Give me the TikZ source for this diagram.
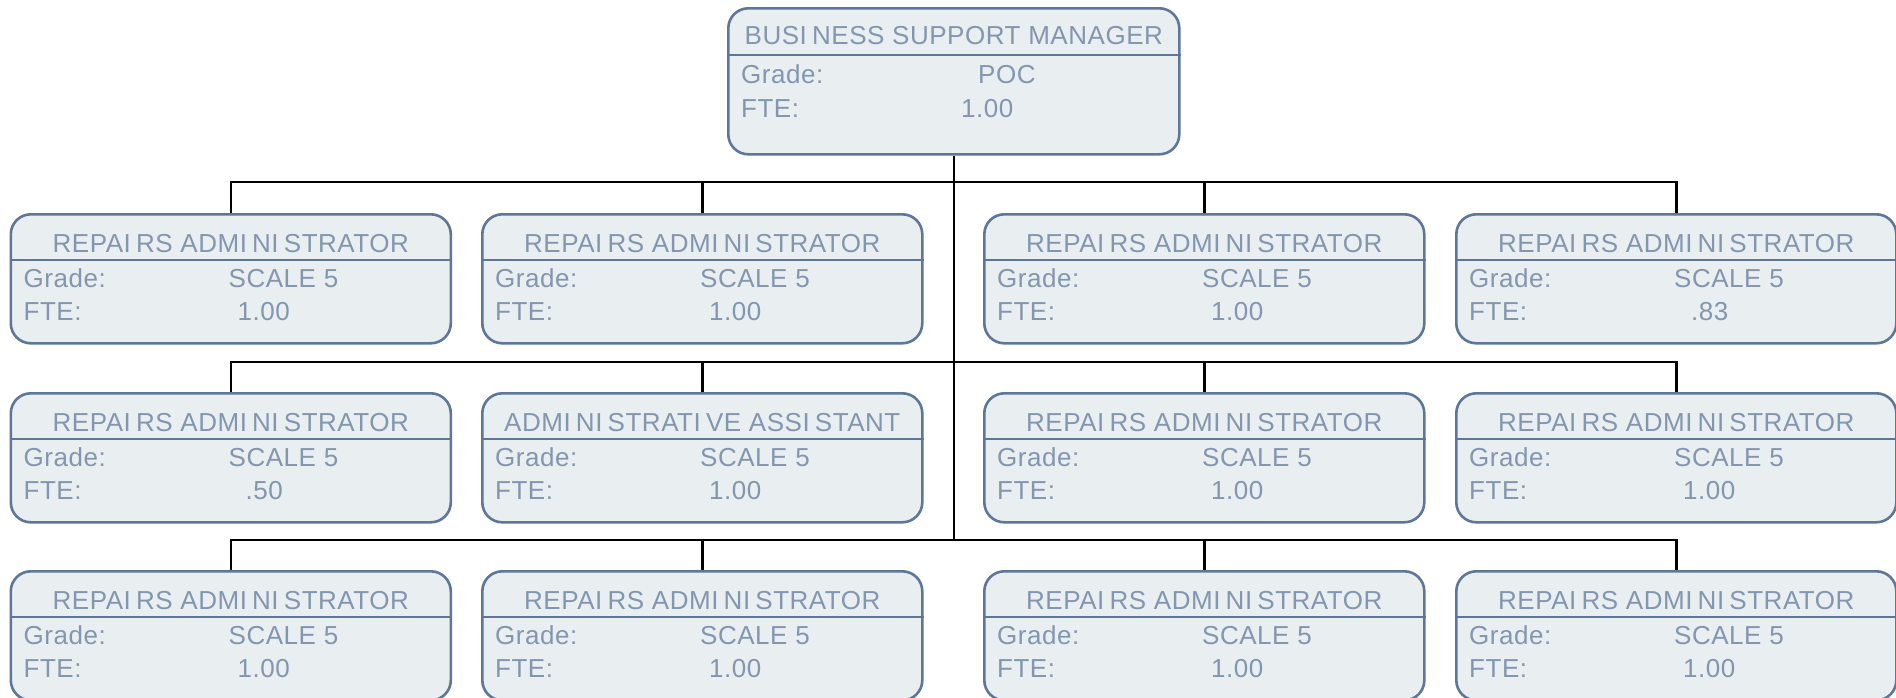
\documentclass[tikz,border=0pt]{standalone}
\usepackage{fontspec}
\setmainfont[LetterSpace=2]{Liberation Sans}
\usetikzlibrary{calc,backgrounds}
\definecolor{boxfill}{HTML}{E9EEF1}
\definecolor{boxline}{HTML}{5E7799}
\definecolor{boxtext}{HTML}{8396AF}
\newcommand\II{I\kern0.2em}
\tikzset{
 orgbox/.style={draw=boxline, fill=boxfill, line width=2.6pt, rounded corners=20pt, rectangle, inner sep=0pt, anchor=north west},
 divline/.style={draw=boxline, line width=2.2pt},
 lbl/.style={text=boxtext, font=\fontsize{26}{28}\selectfont, inner sep=0pt, anchor=base west},
 ttl/.style={lbl, anchor=base},
 conn/.style={draw=black, line width=2.6pt},
}
\newcommand\obox[7]{%
 \node[orgbox, minimum width=440pt, minimum height=129pt] (#1) at (#2,#3) {};
 \draw[divline] ($(#1.north west)+(0,47)$) -- ($(#1.north east)+(0,47)$);
 \node[ttl] (#1t) at ($(#1.north)+(0,39)$) {#4};
 \node[lbl] (#1g) at ($(#1.north west)+(14,74)$) {Grade:};
 \node[lbl] (#1gv) at ($(#1.north west)+(219,74)$) {#5};
 \node[lbl] (#1f) at ($(#1.north west)+(14,107)$) {FTE:};
 \node[lbl] (#1fv) at ($(#1.north west)+(#7,107)$) {#6};
}
\begin{document}
\begin{tikzpicture}[x=1pt,y=-1pt]
\useasboundingbox (0,0) rectangle (1896,697);
% top box
\node[orgbox, minimum width=451pt, minimum height=146pt] (top) at (727,7) {};
\draw[divline] ($(top.north west)+(0,48)$) -- ($(top.north east)+(0,48)$);
\node[ttl] (topt) at ($(top.north)+(0,37)$) {BUS\II NESS SUPPORT MANAGER};
\node[lbl] (topg) at ($(top.north west)+(14,76)$) {Grade:};
\node[lbl] (topgv) at ($(top.north west)+(251,76)$) {POC};
\node[lbl] (topf) at ($(top.north west)+(14,110)$) {FTE:};
\node[lbl] (topfv) at ($(top.north west)+(234,110)$) {1.00};
% row 1
\obox{b11}{9.5}{213}{REPA\II RS ADM\II N\II STRATOR}{SCALE 5}{1.00}{228}
\obox{b12}{481}{213}{REPA\II RS ADM\II N\II STRATOR}{SCALE 5}{1.00}{228}
\obox{b13}{983}{213}{REPA\II RS ADM\II N\II STRATOR}{SCALE 5}{1.00}{228}
\obox{b14}{1455}{213}{REPA\II RS ADM\II N\II STRATOR}{SCALE 5}{.83}{236}
% row 2
\obox{b21}{9.5}{392}{REPA\II RS ADM\II N\II STRATOR}{SCALE 5}{.50}{236}
\obox{b22}{481}{392}{ADM\II N\II STRAT\II VE ASS\II STANT}{SCALE 5}{1.00}{228}
\obox{b23}{983}{392}{REPA\II RS ADM\II N\II STRATOR}{SCALE 5}{1.00}{228}
\obox{b24}{1455}{392}{REPA\II RS ADM\II N\II STRATOR}{SCALE 5}{1.00}{228}
% row 3
\obox{b31}{9.5}{570}{REPA\II RS ADM\II N\II STRATOR}{SCALE 5}{1.00}{228}
\obox{b32}{481}{570}{REPA\II RS ADM\II N\II STRATOR}{SCALE 5}{1.00}{228}
\obox{b33}{983}{570}{REPA\II RS ADM\II N\II STRATOR}{SCALE 5}{1.00}{228}
\obox{b34}{1455}{570}{REPA\II RS ADM\II N\II STRATOR}{SCALE 5}{1.00}{228}
% connectors
\begin{scope}[on background layer]
\coordinate (j1) at (top.south |- 0,182);
\coordinate (j2) at (top.south |- 0,362);
\coordinate (j3) at (top.south |- 0,540);
\draw[conn] (top.south) -- (j3);
\foreach \r/\j in {1/j1,2/j2,3/j3}{
  \draw[conn] (\j) -| (b\r1.north);
  \draw[conn] (\j) -| (b\r2.north);
  \draw[conn] (\j) -| (b\r3.north);
  \draw[conn] (\j) -| (b\r4.north);
}
\end{scope}
\end{tikzpicture}
\end{document}
